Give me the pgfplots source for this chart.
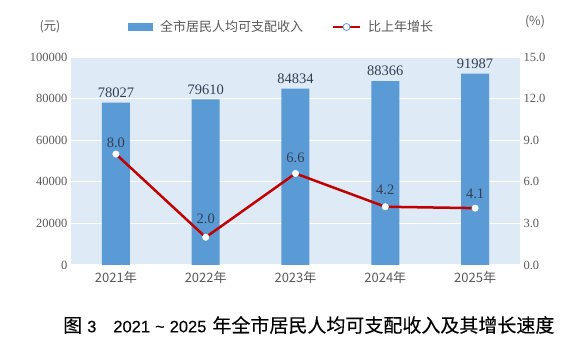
\documentclass[border=0pt]{standalone}
\usepackage{fontspec}
\setmainfont{Liberation Serif}
\newfontfamily\cjk{Noto Sans CJK SC}
\newfontfamily\titlecjk{Noto Sans CJK SC}[FakeBold=0.15]
\newfontfamily\tsans{Liberation Sans}[FakeBold=0.15]
\usepackage{pgfplots}
\pgfplotsset{compat=1.18}
\definecolor{barblue}{HTML}{5B9BD5}
\definecolor{bgblue}{HTML}{DEEAF6}
\definecolor{lred}{HTML}{C00000}
\definecolor{tgray}{HTML}{595959}
\definecolor{lblcol}{HTML}{333F50}
\pgfkeys{/pgf/number format/1000 sep={}}
\newcommand{\lab}[2]{\raisebox{#1}{#2}}
\begin{document}
\begin{tikzpicture}
\begin{axis}[
  at={(0,0)}, anchor=south west, scale only axis,
  width=449pt, height=208pt,
  xmin=-0.5, xmax=4.5, ymin=0, ymax=100000,
  axis background/.style={fill=bgblue},
  axis line style={draw=none}, tick style={draw=none},
  xtick={0,1,2,3,4},
  xticklabels={{\cjk 2021年},{\cjk 2022年},{\cjk 2023年},{\cjk 2024年},{\cjk 2025年}},
  xticklabel style={font=\fontsize{13}{13}\selectfont, text=tgray, yshift=-3pt},
  ytick={0,20000,40000,60000,80000,100000},
  scaled y ticks=false,
  yticklabel style={font=\fontsize{12.5}{12.5}\selectfont, text=tgray, /pgf/number format/.cd, fixed, 1000 sep={}},
  /pgf/number format/assume math mode=true,
  ymajorgrids, grid style={white, line width=1.2pt},
]
\addplot[ybar, bar width=28pt, fill=barblue, draw=none,
  nodes near coords,
  nodes near coords style={font=\fontsize{14.5}{14.5}\selectfont, text=lblcol, inner sep=1pt, yshift=4pt, /pgf/number format/.cd, fixed, 1000 sep={}}]
  coordinates {(0,78027) (1,79610) (2,84834) (3,88366) (4,91987)};
\end{axis}
\begin{axis}[
  at={(0,0)}, anchor=south west, scale only axis,
  width=449pt, height=208pt,
  xmin=-0.5, xmax=4.5, ymin=0, ymax=15,
  hide x axis,
  axis y line*=right,
  axis line style={draw=none}, tick style={draw=none},
  ytick={0,3,6,9,12,15},
  yticklabel style={font=\fontsize{12.5}{12.5}\selectfont, text=tgray, /pgf/number format/.cd, fixed, fixed zerofill, precision=1},
  /pgf/number format/assume math mode=true,
]
\addplot[color=lred, line width=2.5pt, mark=*, mark size=3.2pt,
  mark options={fill=white, draw=white, line width=0.5pt},
  point meta=explicit symbolic, nodes near coords,
  nodes near coords style={font=\fontsize{14.5}{14.5}\selectfont, text=lblcol, inner sep=1pt, yshift=5pt}]
  coordinates {(0,8.0) [8.0] (1,2.0) [\lab{8pt}{2.0}] (2,6.6) [\lab{4.5pt}{6.6}] (3,4.2) [\lab{6.5pt}{4.2}] (4,4.1) [\lab{3.5pt}{4.1}]};
\end{axis}
% legend and unit labels
\fill[barblue] (57pt,234pt) rectangle (82pt,242pt);
\node[anchor=west, inner sep=0pt, text=tgray, font=\cjk\fontsize{13}{13}\selectfont] at (89pt,238pt) {全市居民人均可支配收入};
\draw[lred, line width=2.5pt] (262pt,238pt) -- (289pt,238pt);
\filldraw[fill=white, draw=barblue, line width=0.8pt] (275.5pt,238pt) circle (3.5pt);
\node[anchor=west, inner sep=0pt, text=tgray, font=\cjk\fontsize{13}{13}\selectfont] at (297pt,238pt) {比上年增长};
\node[inner sep=0pt, text=tgray, font=\cjk\fontsize{12.5}{12.5}\selectfont] at (-21pt,238pt) {(元)};
\node[inner sep=0pt, text=tgray, font=\cjk\fontsize{12.5}{12.5}\selectfont] at (464pt,243pt) {(\%)};
\node[anchor=west, inner sep=0pt, text=black, font=\titlecjk\fontsize{19}{19}\selectfont] at (-8pt,-60pt)
  {图\hspace{5pt}{\tsans\fontsize{16.5}{16.5}\selectfont 3}\hspace{17pt}{\tsans\fontsize{16.5}{16.5}\selectfont 2021}\hspace{5pt}{\tsans\fontsize{16.5}{16.5}\selectfont\textasciitilde}\hspace{5pt}{\tsans\fontsize{16.5}{16.5}\selectfont 2025}\hspace{6pt}年全市居民人均可支配收入及其增长速度};
\pgfresetboundingbox
\path (-71pt,-88pt) rectangle (508pt,265pt);
\end{tikzpicture}
\end{document}
